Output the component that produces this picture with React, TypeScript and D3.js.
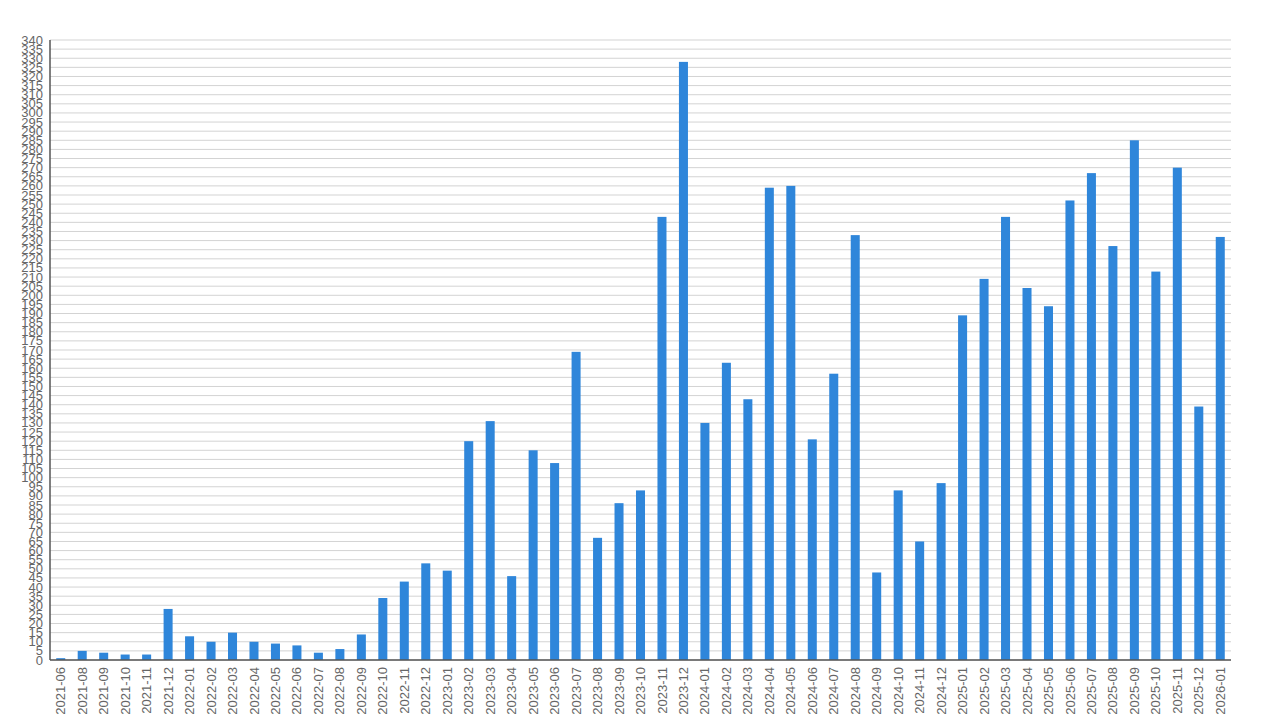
import React from "react";
import * as d3 from "d3";

const categories = [
  "2021-06","2021-08","2021-09","2021-10","2021-11","2021-12",
  "2022-01","2022-02","2022-03","2022-04","2022-05","2022-06","2022-07","2022-08","2022-09","2022-10","2022-11","2022-12",
  "2023-01","2023-02","2023-03","2023-04","2023-05","2023-06","2023-07","2023-08","2023-09","2023-10","2023-11","2023-12",
  "2024-01","2024-02","2024-03","2024-04","2024-05","2024-06","2024-07","2024-08","2024-09","2024-10","2024-11","2024-12",
  "2025-01","2025-02","2025-03","2025-04","2025-05","2025-06","2025-07","2025-08","2025-09","2025-10","2025-11","2025-12",
  "2026-01",
];

const values = [
  1, 5, 4, 3, 3, 28,
  13, 10, 15, 10, 9, 8, 4, 6, 14, 34, 43, 53,
  49, 120, 131, 46, 115, 108, 169, 67, 86, 93, 243, 328,
  130, 163, 143, 259, 260, 121, 157, 233, 48, 93, 65, 97,
  189, 209, 243, 204, 194, 252, 267, 227, 285, 213, 270, 139,
  232,
];

const yTicks = d3.range(0, 345, 5);

const W = 1280;
const H = 720;
const left = 50;
const right = 1231;
const top = 40;
const bottom = 660;

export default function App() {
  const x = d3.scaleBand<string>().domain(categories).range([left, right]).paddingInner(0.58).paddingOuter(0.29);
  const y = d3.scaleLinear().domain([0, 340]).range([bottom, top]);
  const font = "'Liberation Sans', Arial, sans-serif";
  return (
    <svg width={W} height={H} style={{ position: "absolute", left: 0, top: 0, background: "#fff" }}>
      {yTicks.map((t) => (
        <line key={"g" + t} x1={left} x2={right} y1={y(t)} y2={y(t)} stroke="#d3d3d3" strokeWidth={1} />
      ))}
      {categories.map((c, i) => (
        <rect key={c} x={x(c)} y={y(values[i])} width={x.bandwidth()} height={bottom - y(values[i])} fill="#2f86da" />
      ))}
      <line x1={left} x2={left} y1={top} y2={bottom} stroke="#555" strokeWidth={1.5} />
      <line x1={left} x2={right} y1={bottom} y2={bottom} stroke="#555" strokeWidth={1.5} />
      {yTicks.map((t) => (
        <text key={"t" + t} x={43} y={y(t)} dy="0.35em" textAnchor="end" fontFamily={font} fontSize={13} fill="#666">
          {t}
        </text>
      ))}
      {categories.map((c) => {
        const cx = (x(c) as number) + x.bandwidth() / 2;
        return (
          <text key={"x" + c} transform={`translate(${cx},${667}) rotate(-90)`} dy="0.35em" textAnchor="end" fontFamily={font} fontSize={13} fill="#666">
            {c}
          </text>
        );
      })}
    </svg>
  );
}
